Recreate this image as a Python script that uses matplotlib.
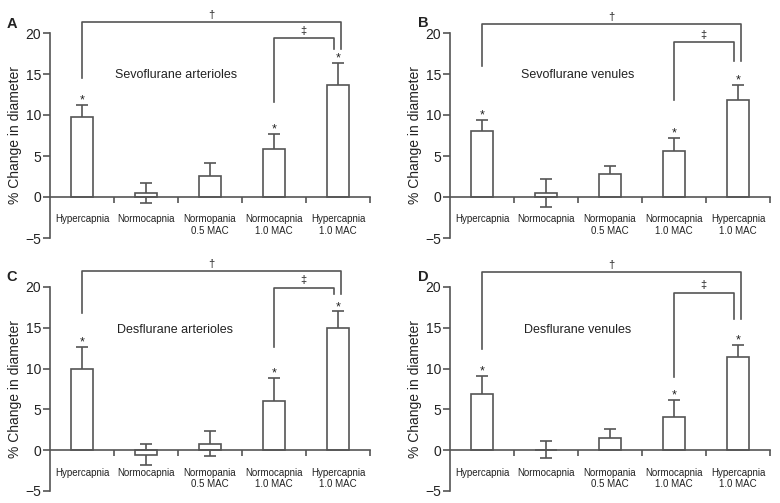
import matplotlib
matplotlib.use("Agg")
import matplotlib.pyplot as plt
import numpy as np

plt.rcParams['font.family'] = ['Liberation Sans', 'DejaVu Sans']

categories = ["Hypercapnia", "Normocapnia", "Normopania\n0.5 MAC",
              "Normocapnia\n1.0 MAC", "Hypercapnia\n1.0 MAC"]
panel_letters = ["A", "B", "C", "D"]
panel_titles = ["Sevoflurane arterioles", "Sevoflurane venules",
                "Desflurane arterioles", "Desflurane venules"]

# mean % change in diameter and error (SE)
sevo_art = [9.7, 0.5, 2.6, 5.8, 13.7]
sevo_art_err = [1.5, 1.2, 1.6, 1.9, 2.6]
sevo_ven = [8.1, 0.5, 2.75, 5.55, 11.8]
sevo_ven_err = [1.25, 1.7, 1.05, 1.7, 1.9]
des_art = [10.0, -0.57, 0.8, 6.04, 14.94]
des_art_err = [2.65, 1.3, 1.55, 2.82, 2.06]
des_ven = [6.86, 0.08, 1.55, 4.12, 11.43]
des_ven_err = [2.2, 1.0, 1.0, 2.08, 1.51]

values = [sevo_art, sevo_ven, des_art, des_ven]
errors = [sevo_art_err, sevo_ven_err, des_art_err, des_ven_err]

# significance markers
star_bars = [0, 3, 4]
# big bracket (Hypercapnia vs Hypercapnia 1.0 MAC): left y, top y, right y
big_bracket = [(14.5, 21.3, 18.0), (16.0, 21.1, 16.6), (16.8, 21.96, 19.2), (12.4, 21.8, 16.1)]
# small bracket (Normocapnia 1.0 MAC vs Hypercapnia 1.0 MAC)
small_bracket = [(11.6, 19.4, 18.0), (11.8, 18.9, 16.6), (12.65, 19.9, 19.2), (9.0, 19.3, 16.1)]
title_pos = [(0.52, 14.9), (0.61, 14.9), (0.55, 14.7), (0.66, 14.7)]

LC = '#555555'
TC = '#222222'

fig = plt.figure(figsize=(7.8, 5.03), dpi=100)
W, H = 780, 503
ax_px = [(50, 33, 238), (450, 33, 238), (50, 287, 491), (450, 287, 491)]
letter_px = [(12, 24), (423, 23), (12, 277), (423, 277)]

for i in range(4):
    lx, ty, by = ax_px[i]
    ax = fig.add_axes([lx / W, 1 - by / H, 320 / W, (by - ty) / H])
    x = np.arange(len(categories))
    v = values[i]
    e = errors[i]
    ax.errorbar(x, v, yerr=e, fmt='none', ecolor=LC, elinewidth=1.2,
                capsize=4, capthick=1.2, zorder=1)
    ax.bar(x, v, width=0.34, color='white', edgecolor=LC, linewidth=1.2, zorder=2)
    for b in star_bars:
        ax.text(x[b], v[b] + e[b] + 0.55, '*', ha='center', va='center',
                fontsize=9, color=TC)
    # brackets
    l0, t0, r0 = big_bracket[i]
    xl, xr = x[0], x[4] + 0.05
    ax.plot([xl, xl, xr, xr], [l0, t0, t0, r0], color=LC, lw=1.2, clip_on=False)
    ax.text((xl + xr) / 2, t0 + 0.9, '\u2020', ha='center', va='center',
            fontsize=8, color=TC, clip_on=False)
    l1, t1, r1 = small_bracket[i]
    xl, xr = x[3], x[4] - 0.07
    ax.plot([xl, xl, xr, xr], [l1, t1, t1, r1], color=LC, lw=1.2, clip_on=False)
    ax.text((xl + xr) / 2, t1 + 0.9, '\u2021', ha='center', va='center',
            fontsize=8, color=TC, clip_on=False)

    tx, tyy = title_pos[i]
    ax.text(tx, tyy, panel_titles[i], ha='left', va='center', fontsize=9, color=TC)

    ax.set_xlim(-0.5, 4.5)
    ax.set_ylim(-5, 20)
    ax.set_yticks([-5, 0, 5, 10, 15, 20])
    ax.set_yticklabels(['\u22125', '0', '5', '10', '15', '20'])
    ax.set_xticks(x)
    ax.set_xticklabels(categories)
    ax.set_xticks(np.arange(0.5, 5, 1), minor=True)
    ax.tick_params(axis='x', which='major', length=0, pad=12.5, labelsize=7, labelcolor=TC)
    ax.tick_params(axis='x', which='minor', length=4, width=1.2, color=LC, direction='out')
    ax.tick_params(axis='y', length=5, width=1.2, color=LC, labelsize=10, labelcolor=TC, pad=1.5)
    for lbl in ax.get_xticklabels():
        lbl.set_linespacing(1.05)
    for s in ['top', 'right']:
        ax.spines[s].set_visible(False)
    ax.spines['bottom'].set_position(('data', 0))
    for s in ['left', 'bottom']:
        ax.spines[s].set_color(LC)
        ax.spines[s].set_linewidth(1.2)
    ax.set_ylabel('% Change in diameter', fontsize=10, color=TC, labelpad=2.5)
    ax.patch.set_alpha(0)

    fx, fy = letter_px[i]
    fig.text(fx / W, 1 - fy / H, panel_letters[i], ha='center', va='center',
             fontsize=10.5, fontweight='bold', color=TC)

fig.savefig('out.png', dpi=100)
